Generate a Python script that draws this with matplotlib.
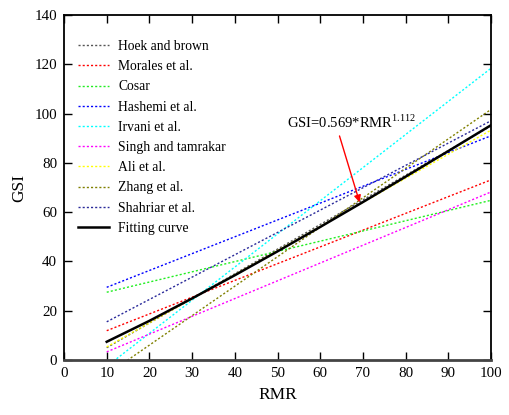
import matplotlib
matplotlib.use("Agg")
import matplotlib.pyplot as plt

plt.rcParams['font.family'] = ['Liberation Serif', 'DejaVu Serif']
plt.rcParams['mathtext.fontset'] = 'custom'
plt.rcParams['mathtext.rm'] = 'Liberation Serif'

rmr_ends = [10, 100]
labels = ["Hoek and brown", "Morales et al.", "Cosar", "Hashemi et al.", "Irvani et al.",
          "Singh and tamrakar", "Ali et al.", "Zhang et al.", "Shahriar et al."]
gsi_ends = [
    [5.0, 95.0],     # Hoek and brown
    [11.9, 73.1],    # Morales et al.
    [27.5, 64.8],    # Cosar
    [29.5, 91.0],    # Hashemi et al.
    [-2.6, 118.4],   # Irvani et al.
    [3.3, 68.2],     # Singh and tamrakar
    [5.3, 93.3],     # Ali et al.
    [-5.9, 101.7],   # Zhang et al.
    [15.5, 97.1],    # Shahriar et al.
]
colors = ["#555555", "#ff0000", "#22ee22", "#0000ff", "#00ffff",
          "#ff00ff", "#ffff00", "#808000", "#2a2a9a"]

fit_rmr = [10, 20, 30, 40, 50, 60, 70, 80, 90, 100]
fit_gsi = [7.4, 15.9, 25.0, 34.4, 44.1, 54.0, 64.1, 74.4, 84.8, 95.3]

x_ticks = [0, 10, 20, 30, 40, 50, 60, 70, 80, 90, 100]
y_ticks = [0, 20, 40, 60, 80, 100, 120, 140]

fig = plt.figure(figsize=(5.1, 4.15), dpi=100)
ax = fig.add_axes([0.1255, 0.1325, 0.8375, 0.8315])

for lab, ys, c in zip(labels, gsi_ends, colors):
    ax.plot(rmr_ends, ys, color=c, lw=1.0, linestyle=(0, (1.5, 1.5)), label=lab)
ax.plot(fit_rmr, fit_gsi, color='black', lw=1.8, label="Fitting curve")

ax.set_xlim(0, 100)
ax.set_ylim(0, 140)
ax.set_xticks(x_ticks)
ax.set_yticks(y_ticks)
ax.tick_params(direction='in', top=True, right=True, length=6, width=1,
               labelsize=10.8, pad=5)
for s in ax.spines.values():
    s.set_linewidth(1.3)
ax.spines['bottom'].set_color('#444444')
ax.spines['bottom'].set_linewidth(2)

ax.set_xlabel("RMR", fontsize=12.5, labelpad=5)
ax.set_ylabel("GSI", fontsize=12.5, labelpad=5)

ax.annotate("", xy=(69.2, 64.0), xytext=(64.5, 90.9),
            arrowprops=dict(arrowstyle='-|>', color='red', lw=1.0,
                            mutation_scale=10, shrinkA=0, shrinkB=0))
ax.text(52.1, 94.2, r"GSI=0.569*RMR$^{1.112}$", fontsize=10.5, ha='left', va='baseline')

ax.legend(loc='upper left', bbox_to_anchor=(0.0, 0.967), frameon=False,
          fontsize=9.8, handlelength=2.3, handletextpad=0.7, labelspacing=0.53,
          borderaxespad=0.6)

fig.savefig("out.png", dpi=100)
